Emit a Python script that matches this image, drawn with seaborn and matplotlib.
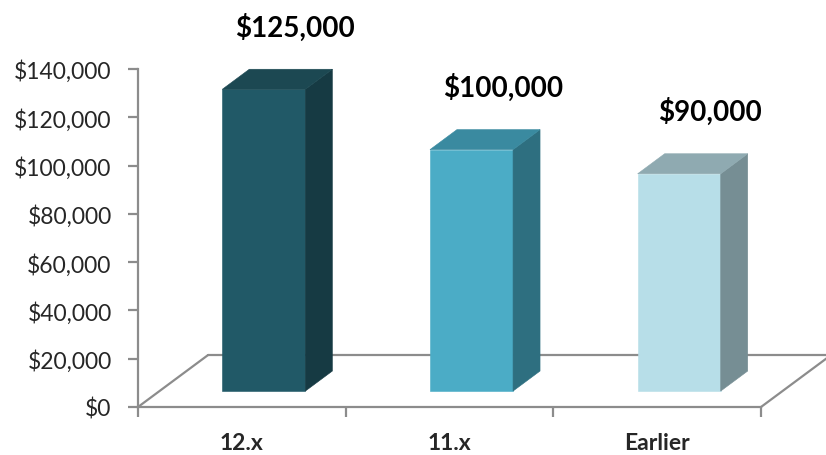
import matplotlib
matplotlib.use("Agg")
import matplotlib.pyplot as plt
from matplotlib.patches import Polygon
from matplotlib.ticker import FuncFormatter, FixedLocator
import pandas as pd
import seaborn as sns

# Average salary by release line
categories = ["12.x", "11.x", "Earlier"]
salaries = [125000, 100000, 90000]
y_ticks = [0, 20000, 40000, 60000, 80000, 100000, 120000, 140000]

# Face shading for the pseudo-3D columns
front_colors = ["#215967", "#4BACC6", "#B7DEE8"]
side_colors = ["#163A43", "#2E6F80", "#768E94"]
top_colors = ["#1C4852", "#3A8AA0", "#8FAAB1"]

sns.set_style("white")
plt.rcParams["font.family"] = ["Lato", "DejaVu Sans"]

df = pd.DataFrame({"version": categories, "salary": salaries})

fig = plt.figure(figsize=(8.26, 4.56), dpi=100)
ax = fig.add_axes([138 / 826, 48 / 456, (761 - 138) / 826, (408 - 70) / 456])

sns.barplot(data=df, x="version", y="salary", hue="version",
            palette=front_colors, width=0.4, legend=False,
            linewidth=0, saturation=1, ax=ax, zorder=3)

ax.set_xlim(-0.5, 2.5)
ax.set_ylim(0, 140000)

# Oblique projection offsets (data units): floor depth, bar front inset, bar depth
FLOOR_DX, FLOOR_DY = 0.337, 21500
FRONT_DX, FRONT_DY = 0.106, 6600
DEPTH_DX, DEPTH_DY = 0.13, 8300

grey = "#8C8C8C"
# Floor outline: back edge and two receding sides
ax.plot([-0.5 + FLOOR_DX, 2.5 + FLOOR_DX], [FLOOR_DY, FLOOR_DY],
        color=grey, lw=1.6, clip_on=False, zorder=1)
ax.plot([-0.5, -0.5 + FLOOR_DX], [0, FLOOR_DY], color=grey, lw=1.6,
        clip_on=False, zorder=1)
ax.plot([2.5, 2.5 + FLOOR_DX], [0, FLOOR_DY], color=grey, lw=1.6,
        clip_on=False, zorder=1)

bars = sorted(ax.patches, key=lambda p: p.get_x())
for i, p in enumerate(bars):
    p.set_x(p.get_x() + FRONT_DX)
    p.set_y(FRONT_DY)
    p.set_clip_on(False)
    p.set_edgecolor(front_colors[i])
    p.set_linewidth(0.4)
    x0 = p.get_x()
    x1 = x0 + p.get_width()
    y0 = p.get_y()
    y1 = y0 + p.get_height()
    side = Polygon([(x1, y0), (x1 + DEPTH_DX, y0 + DEPTH_DY),
                    (x1 + DEPTH_DX, y1 + DEPTH_DY), (x1, y1)],
                   closed=True, facecolor=side_colors[i],
                   edgecolor=side_colors[i], linewidth=0.4,
                   zorder=3, clip_on=False)
    top = Polygon([(x0, y1), (x1, y1), (x1 + DEPTH_DX, y1 + DEPTH_DY),
                   (x0 + DEPTH_DX, y1 + DEPTH_DY)],
                  closed=True, facecolor=top_colors[i],
                  edgecolor=top_colors[i], linewidth=0.4,
                  zorder=3, clip_on=False)
    ax.add_patch(side)
    ax.add_patch(top)
    ax.text((x0 + x1) / 2 + 0.15, y1 + 26000, f"${salaries[i]:,.0f}",
            ha="center", va="center", fontsize=20, fontweight="bold",
            color="black")

# Axes styling
for s in ["top", "right"]:
    ax.spines[s].set_visible(False)
for s in ["left", "bottom"]:
    ax.spines[s].set_color(grey)
    ax.spines[s].set_linewidth(1.6)
    ax.spines[s].set_zorder(2)

ax.yaxis.set_major_locator(FixedLocator(y_ticks))
ax.yaxis.set_major_formatter(FuncFormatter(lambda v, _: f"${v:,.0f}"))
ax.tick_params(axis="y", direction="out", length=7, width=1.6, color=grey,
               labelsize=16.5, pad=12, left=True)
ax.xaxis.set_minor_locator(FixedLocator([-0.5, 0.5, 1.5, 2.5]))
ax.tick_params(axis="x", which="minor", direction="out", length=7,
               width=1.6, color=grey, bottom=True)
ax.tick_params(axis="x", which="major", length=0, pad=18)
for lab in ax.get_xticklabels():
    lab.set_fontweight("bold")
    lab.set_fontsize(16.5)
ax.set_xlabel("")
ax.set_ylabel("")
ax.grid(False)

fig.savefig("out.png", dpi=100)
